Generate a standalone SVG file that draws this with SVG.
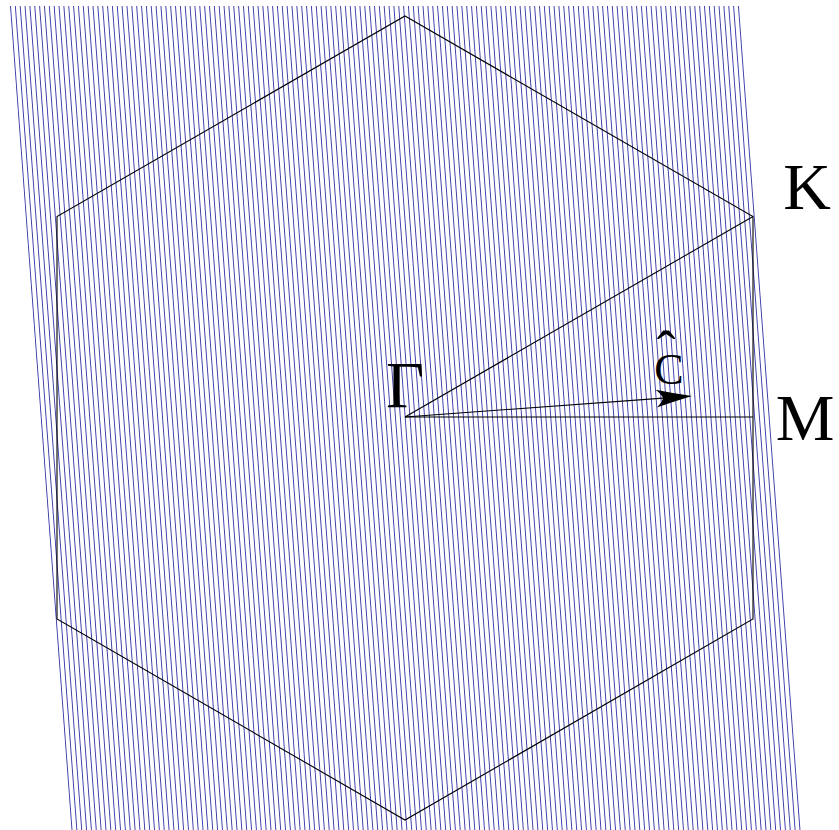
<svg xmlns="http://www.w3.org/2000/svg" width="839" height="830" viewBox="0 0 839 830">
  <style>
    .edge { fill: none; stroke: #000; stroke-width: 1.1; }
    .lbl { font-family: "Liberation Serif", "Times New Roman", serif; fill: #000; text-anchor: middle; }
  </style>
  <defs>
    <pattern id="hatch" patternUnits="userSpaceOnUse" width="4.853" height="10" patternTransform="translate(10,6) skewX(4.27)">
      <rect x="0" y="0" width="0.95" height="10" fill="#3c3cab"/>
    </pattern>
    <marker id="arrow" markerUnits="userSpaceOnUse" viewBox="-37 -10 38 20" markerWidth="38" markerHeight="20" refX="-29" refY="0" orient="auto">
      <path d="M0,0 Q-18,-4 -36,-9 Q-30,-4 -29,0 Q-30,4 -36,9 Q-18,4 0,0 Z" fill="#000"/>
    </marker>
  </defs>
  <rect width="839" height="830" fill="#fff"/>
  <g id="background">
    <polygon points="9.5,6 740,6 802,830 71,830" fill="url(#hatch)"/>
  </g>
  <g id="hexagon">
    <polygon class="edge" points="405,16 753,216.5 753,619 405,820 57,619 57,216.5"/>
  </g>
  <g id="connectors">
    <line class="edge" x1="405" y1="417" x2="753" y2="216.5"/>
    <line class="edge" x1="405" y1="417" x2="753" y2="417"/>
    <line class="edge" x1="405" y1="417" x2="663.1" y2="398.1" marker-end="url(#arrow)"/>
  </g>
  <g id="label-gamma">
    <text class="lbl" x="405" y="407" font-size="66">Γ</text>
  </g>
  <g id="label-K">
    <text class="lbl" x="807" y="209" font-size="66">K</text>
  </g>
  <g id="label-M">
    <text class="lbl" x="805" y="440" font-size="66">M</text>
  </g>
  <g id="label-C">
    <text class="lbl" x="669" y="384" font-size="44">C<tspan x="666" y="370" font-size="56">ˆ</tspan></text>
  </g>
</svg>
